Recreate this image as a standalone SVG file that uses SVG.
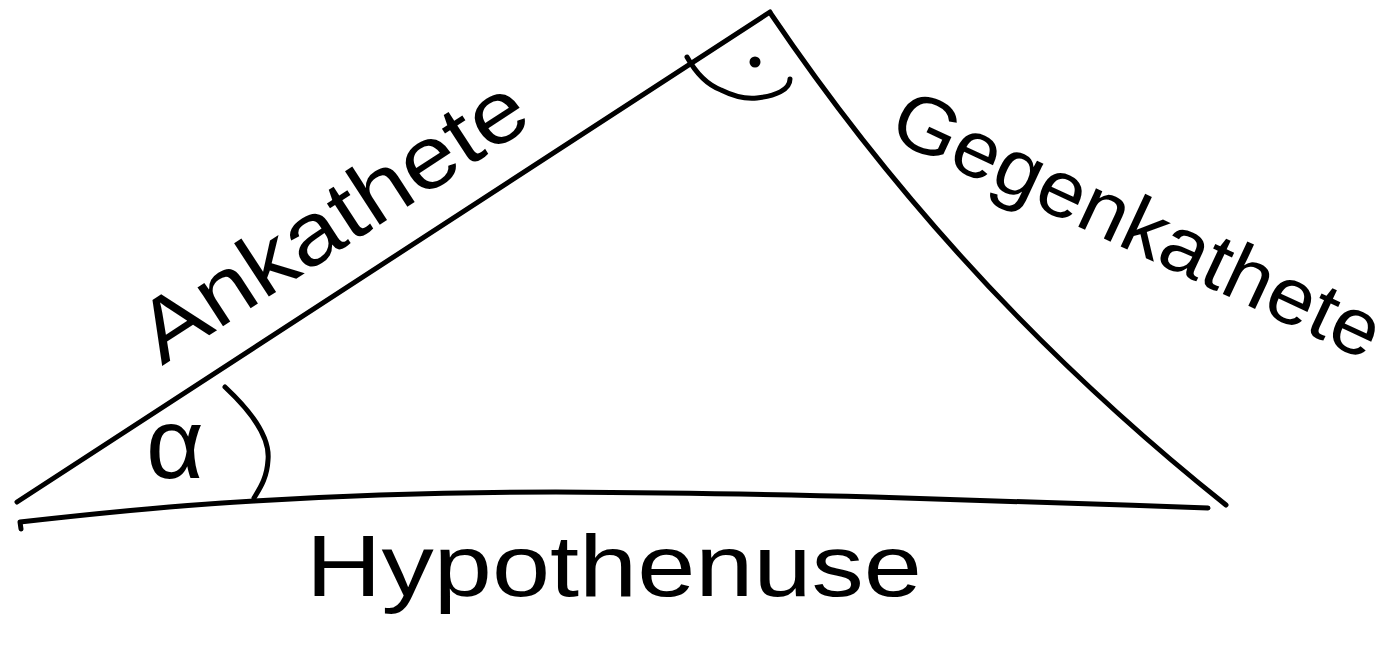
<svg xmlns="http://www.w3.org/2000/svg" width="1392" height="660" viewBox="0 0 1392 660">
<style>
.ln{fill:none;stroke:#000;stroke-width:5;stroke-linecap:round;stroke-linejoin:round}
.lbl{font-family:"Liberation Sans",Arial,sans-serif;fill:#000}
</style>
<rect width="1392" height="660" fill="#fff"/>
<g id="triangle">
<path class="ln" d="M17,502 L770,12"/>
<path class="ln" d="M771,14 Q959,292 1226,505"/>
<path class="ln" d="M21,529 L20,522 C100,513 180,505 254,501 C350,495 450,492 556,492 C700,493 800,495 874,497 C1000,501 1100,504 1208,508"/>
</g>
<g id="angle-alpha">
<path class="ln" d="M225,387 C255,415 270,440 268,460 C267,478 260,488 254,498"/>
<text class="lbl" x="146" y="478" font-size="100">α</text>
</g>
<g id="right-angle">
<path class="ln" d="M687,57 C697,75 708,85 721,90 C735,97 748,99 757,98 C775,96 790,90 790,79"/>
<circle cx="755" cy="62" r="5.5" fill="#000"/>
</g>
<g id="labels">
<text class="lbl" font-size="88" textLength="445" lengthAdjust="spacingAndGlyphs" transform="translate(162,366) rotate(-33)">Ankathete</text>
<text class="lbl" font-size="80" textLength="530" lengthAdjust="spacingAndGlyphs" transform="translate(886,137) rotate(25)">Gegenkathete</text>
<text class="lbl" x="306" y="596" font-size="88" textLength="616" lengthAdjust="spacingAndGlyphs">Hypothenuse</text>
</g>
</svg>
